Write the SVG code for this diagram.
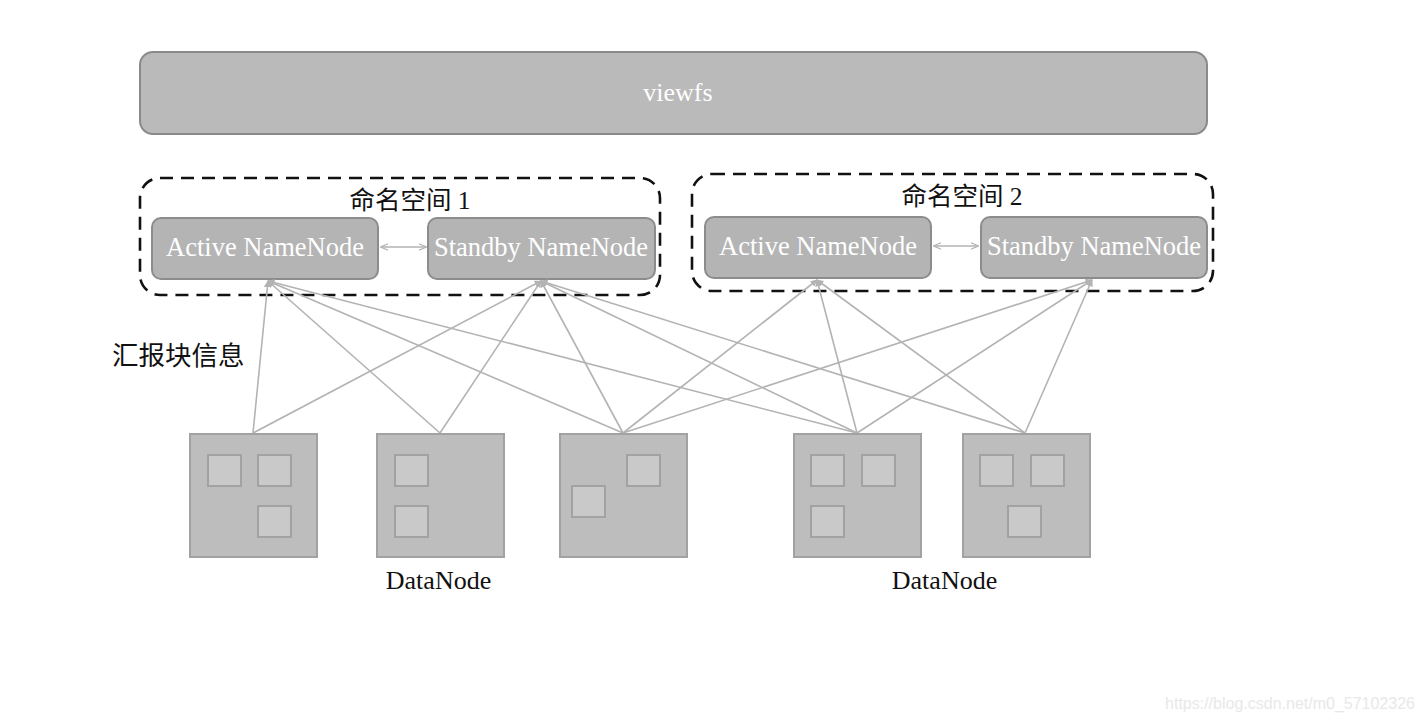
<svg xmlns="http://www.w3.org/2000/svg" width="1425" height="721" viewBox="0 0 1425 721">
<style>
.bar{fill:#bababa;stroke:#8a8a8a;stroke-width:2}
.nn{fill:#b4b4b4;stroke:#8c8c8c;stroke-width:2}
.ns{fill:none;stroke:#111;stroke-width:2.6;stroke-dasharray:13 8}
.dn{fill:#bdbdbd;stroke:#a2a2a2;stroke-width:2}
.blk{fill:#c9c9c9;stroke:#a2a2a2;stroke-width:2}
.wt{font-family:"Liberation Serif","Noto Sans CJK SC",serif;fill:#fff;text-anchor:middle}
.bt{font-family:"Liberation Serif","Noto Sans CJK SC",serif;fill:#111}
.ln{stroke:#b3b3b3;stroke-width:1.6;fill:none}
</style>
<defs>
<marker id="ah" viewBox="0 0 10 10" refX="9" refY="5" markerWidth="7" markerHeight="7" orient="auto-start-reverse" markerUnits="userSpaceOnUse">
<path d="M0,0 L10,5 L0,10 z" fill="#b3b3b3"/>
</marker>
<marker id="ah2" viewBox="0 0 10 10" refX="9" refY="5" markerWidth="8" markerHeight="8" orient="auto-start-reverse" markerUnits="userSpaceOnUse">
<path d="M0,1 L10,5 L0,9" fill="none" stroke="#b3b3b3" stroke-width="1.6"/>
</marker>
</defs>
<rect width="1425" height="721" fill="#fff"/>

<g id="viewfs">
<rect class="bar" x="140" y="52" width="1067" height="82" rx="13"/>
<text class="wt" x="678" y="101" font-size="26">viewfs</text>
</g>

<g id="namespace1">
<rect class="ns" x="140" y="178" width="520" height="117" rx="20"/>
<text class="bt" x="410" y="209" font-size="25.5" text-anchor="middle">命名空间 1</text>
</g>
<g id="active1">
<rect class="nn" x="152" y="218" width="226" height="61" rx="9"/>
<text class="wt" x="265" y="256" font-size="26.5">Active NameNode</text>
</g>
<g id="standby1">
<rect class="nn" x="428" y="218" width="227" height="61" rx="9"/>
<text class="wt" x="541" y="256" font-size="26.5">Standby NameNode</text>
</g>

<g id="namespace2">
<rect class="ns" x="692" y="174" width="521" height="117" rx="20"/>
<text class="bt" x="962" y="205" font-size="25.5" text-anchor="middle">命名空间 2</text>
</g>
<g id="active2">
<rect class="nn" x="705" y="217" width="226" height="61" rx="9"/>
<text class="wt" x="818" y="255" font-size="26.5">Active NameNode</text>
</g>
<g id="standby2">
<rect class="nn" x="981" y="217" width="226" height="61" rx="9"/>
<text class="wt" x="1094" y="255" font-size="26.5">Standby NameNode</text>
</g>

<g id="report-label">
<text class="bt" x="112" y="365" font-size="26.5">汇报块信息</text>
</g>

<g id="connectors">
<line class="ln" x1="381" y1="247" x2="426" y2="247" marker-start="url(#ah2)" marker-end="url(#ah2)"/>
<line class="ln" x1="934" y1="246" x2="978" y2="246" marker-start="url(#ah2)" marker-end="url(#ah2)"/>
<line class="ln" x1="253" y1="433" x2="268" y2="281" marker-end="url(#ah)"/>
<line class="ln" x1="440" y1="433" x2="268" y2="281" marker-end="url(#ah)"/>
<line class="ln" x1="623" y1="433" x2="268" y2="281" marker-end="url(#ah)"/>
<line class="ln" x1="857" y1="433" x2="268" y2="281" marker-end="url(#ah)"/>
<line class="ln" x1="253" y1="433" x2="541" y2="281" marker-end="url(#ah)"/>
<line class="ln" x1="440" y1="433" x2="541" y2="281" marker-end="url(#ah)"/>
<line class="ln" x1="623" y1="433" x2="541" y2="281" marker-end="url(#ah)"/>
<line class="ln" x1="857" y1="433" x2="541" y2="281" marker-end="url(#ah)"/>
<line class="ln" x1="1025" y1="433" x2="541" y2="281" marker-end="url(#ah)"/>
<line class="ln" x1="623" y1="433" x2="817" y2="280" marker-end="url(#ah)"/>
<line class="ln" x1="857" y1="433" x2="817" y2="280" marker-end="url(#ah)"/>
<line class="ln" x1="1025" y1="433" x2="817" y2="280" marker-end="url(#ah)"/>
<line class="ln" x1="623" y1="433" x2="1092" y2="280" marker-end="url(#ah)"/>
<line class="ln" x1="857" y1="433" x2="1092" y2="280" marker-end="url(#ah)"/>
<line class="ln" x1="1025" y1="433" x2="1092" y2="280" marker-end="url(#ah)"/>
</g>

<g id="datanode1">
<rect class="dn" x="190" y="434" width="127" height="123"/>
<rect class="blk" x="208" y="455" width="33" height="31"/>
<rect class="blk" x="258" y="455" width="33" height="31"/>
<rect class="blk" x="258" y="506" width="33" height="31"/>
</g>
<g id="datanode2">
<rect class="dn" x="377" y="434" width="127" height="123"/>
<rect class="blk" x="395" y="455" width="33" height="31"/>
<rect class="blk" x="395" y="506" width="33" height="31"/>
</g>
<g id="datanode3">
<rect class="dn" x="560" y="434" width="127" height="123"/>
<rect class="blk" x="627" y="455" width="33" height="31"/>
<rect class="blk" x="572" y="486" width="33" height="31"/>
</g>
<g id="datanode4">
<rect class="dn" x="794" y="434" width="127" height="123"/>
<rect class="blk" x="811" y="455" width="33" height="31"/>
<rect class="blk" x="862" y="455" width="33" height="31"/>
<rect class="blk" x="811" y="506" width="33" height="31"/>
</g>
<g id="datanode5">
<rect class="dn" x="963" y="434" width="127" height="123"/>
<rect class="blk" x="980" y="455" width="33" height="31"/>
<rect class="blk" x="1031" y="455" width="33" height="31"/>
<rect class="blk" x="1008" y="506" width="33" height="31"/>
</g>

<g id="datanode-labels">
<text class="bt" x="438.5" y="589" font-size="26" text-anchor="middle">DataNode</text>
<text class="bt" x="944.5" y="589" font-size="26" text-anchor="middle">DataNode</text>
</g>

<text x="1415" y="709" font-family="Liberation Sans, Arial, sans-serif" font-size="16" fill="#e8e8e8" text-anchor="end">https://blog.csdn.net/m0_57102326</text>
</svg>
